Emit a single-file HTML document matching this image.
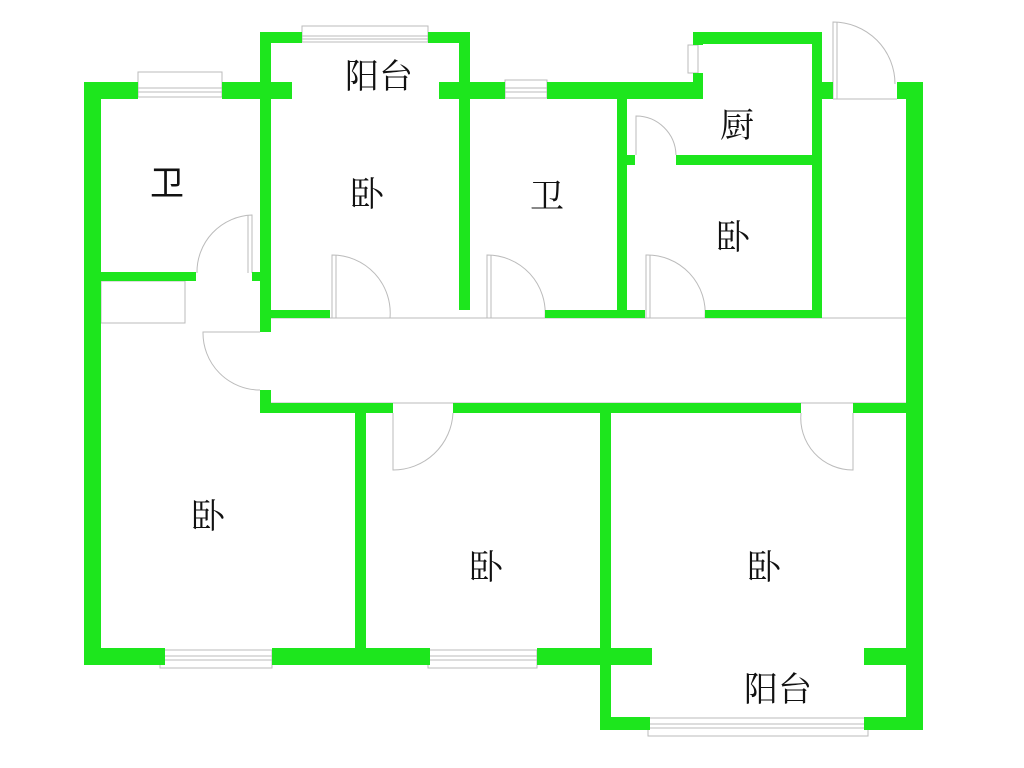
<!DOCTYPE html>
<html><head><meta charset="utf-8"><style>
html,body{margin:0;padding:0;background:#fff;width:1024px;height:768px;overflow:hidden}
text{font-family:"Liberation Serif","Noto Serif CJK SC",serif;font-size:34px;fill:#111}
</style></head><body>
<svg width="1024" height="768" viewBox="0 0 1024 768" xmlns="http://www.w3.org/2000/svg">
<g fill="none" stroke="#bbb" stroke-width="1">
<!-- windows -->
<rect x="138" y="72" width="84" height="25"/><line x1="138" y1="88" x2="222" y2="88"/><line x1="138" y1="92" x2="222" y2="92"/>
<rect x="302" y="26" width="126" height="16"/><line x1="302" y1="36" x2="428" y2="36"/><line x1="302" y1="39" x2="428" y2="39"/>
<rect x="505" y="80" width="42" height="18"/><line x1="505" y1="88" x2="547" y2="88"/><line x1="505" y1="92" x2="547" y2="92"/>
<rect x="688" y="45" width="10" height="28"/>
<rect x="160" y="650" width="112" height="18"/><line x1="160" y1="656" x2="272" y2="656"/><line x1="160" y1="660" x2="272" y2="660"/>
<rect x="428" y="650" width="109" height="18"/><line x1="428" y1="656" x2="537" y2="656"/><line x1="428" y1="660" x2="537" y2="660"/>
<rect x="648" y="718" width="220" height="18"/><line x1="648" y1="724" x2="868" y2="724"/><line x1="648" y1="728" x2="868" y2="728"/>
<!-- misc outlines -->
<rect x="101" y="281" width="84" height="42"/>
<line x1="271" y1="318" x2="906" y2="318"/><line x1="271" y1="403" x2="906" y2="403"/>
<line x1="833" y1="99" x2="897" y2="99"/>
<!-- doors -->
<path d="M252 273 V215 A57 57 0 0 0 197 273"/><line x1="248" y1="215" x2="248" y2="273"/>
<path d="M260 332 H203 A57 57 0 0 0 260 390"/>
<path d="M332 318 V255 A58 58 0 0 1 390 318"/><line x1="336" y1="255" x2="336" y2="318"/>
<path d="M487 318 V255 A58 58 0 0 1 545 318"/><line x1="491" y1="255" x2="491" y2="318"/>
<path d="M646 318 V255 A58 58 0 0 1 705 318"/><line x1="650" y1="255" x2="650" y2="318"/>
<path d="M636 155 V116 A40 40 0 0 1 676 155"/>
<path d="M833 99 V22 A62 62 0 0 1 895 84"/><line x1="837" y1="22" x2="837" y2="99"/>
<path d="M393 413 V470 A60 60 0 0 0 453 413"/>
<path d="M853 413 V470 A52 52 0 0 1 801 413"/>
</g>
<g fill="#1de61d">
<rect x="84" y="82" width="17" height="583"/>
<rect x="84" y="82" width="54" height="17"/>
<rect x="222" y="82" width="70" height="17"/>
<rect x="260" y="32" width="11" height="300"/>
<rect x="260" y="32" width="42" height="11"/>
<rect x="428" y="32" width="42" height="11"/>
<rect x="459" y="32" width="11" height="278"/>
<rect x="439" y="82" width="66" height="17"/>
<rect x="547" y="82" width="156" height="17"/>
<rect x="693" y="32" width="129" height="12"/>
<rect x="693" y="32" width="10" height="13"/>
<rect x="693" y="73" width="10" height="26"/>
<rect x="812" y="32" width="10" height="286"/>
<rect x="812" y="82" width="21" height="17"/>
<rect x="897" y="82" width="26" height="17"/>
<rect x="906" y="82" width="17" height="648"/>
<rect x="617" y="82" width="10" height="236"/>
<rect x="627" y="155" width="8" height="10"/>
<rect x="676" y="155" width="136" height="10"/>
<rect x="101" y="272" width="95" height="9"/>
<rect x="252" y="272" width="8" height="9"/>
<rect x="271" y="310" width="59" height="8"/>
<rect x="545" y="310" width="100" height="8"/>
<rect x="705" y="310" width="117" height="8"/>
<rect x="260" y="390" width="11" height="23"/>
<rect x="260" y="403" width="133" height="10"/>
<rect x="453" y="403" width="348" height="10"/>
<rect x="853" y="403" width="53" height="10"/>
<rect x="355" y="403" width="11" height="262"/>
<rect x="600" y="403" width="11" height="327"/>
<rect x="84" y="648" width="81" height="17"/>
<rect x="272" y="648" width="158" height="17"/>
<rect x="537" y="648" width="115" height="17"/>
<rect x="864" y="648" width="58" height="17"/>
<rect x="600" y="717" width="50" height="13"/>
<rect x="864" y="717" width="58" height="13"/>
</g>
<g text-anchor="middle">
<text x="379" y="88">阳台</text>
<text x="167" y="195" style="font-family:'Liberation Sans','Noto Sans CJK SC',sans-serif">卫</text>
<text x="367" y="206">卧</text>
<text x="547" y="208">卫</text>
<text x="737" y="137">厨</text>
<text x="733" y="249">卧</text>
<text x="208" y="528">卧</text>
<text x="486" y="579">卧</text>
<text x="764" y="579">卧</text>
<text x="778" y="701">阳台</text>
</g>
</svg>
</body></html>
